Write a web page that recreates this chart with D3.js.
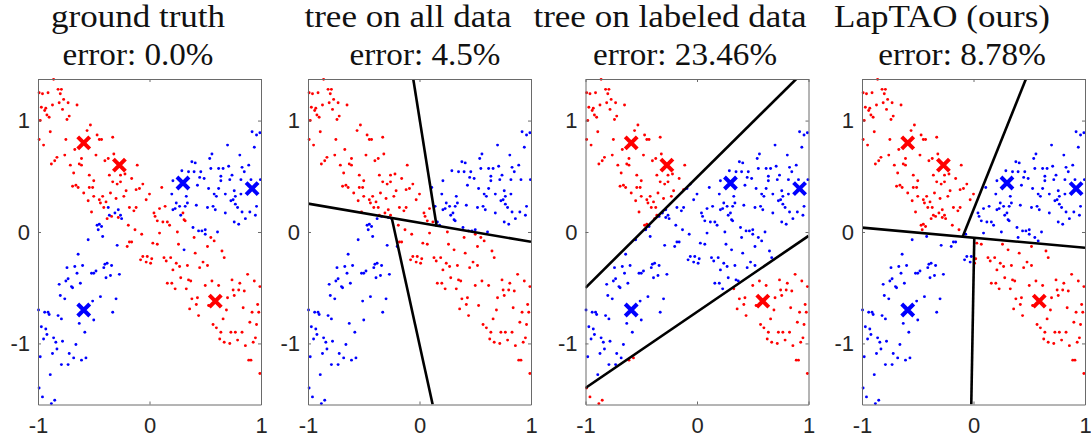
<!DOCTYPE html>
<html>
<head>
<meta charset="utf-8">
<script src="https://cdn.jsdelivr.net/npm/d3@7"></script>
<style>
  body { margin: 0; background: #fff; }
  svg { display: block; }
</style>
</head>
<body>
<svg id="chart"></svg>
<script>
// true class of every point
const redPoints = [
  [-0.86,1.37],[-0.99,1.25],[-0.96,1.24],[-0.91,1.25],[-0.82,1.28],[-0.79,1.28],[-0.80,1.24],[-0.77,1.19],
  [-0.81,1.16],[-0.73,1.16],[-0.65,1.14],[-0.97,1.12],[-0.93,1.11],[-0.94,1.09],[-0.87,1.14],[-0.78,1.10],
  [-0.92,1.05],[-0.90,1.03],[-0.72,1.04],[-0.74,1.01],[-0.98,1.00],[-0.53,0.96],[-0.56,0.91],[-0.89,0.90],
  [-0.99,0.83],[-0.75,0.83],[-0.95,0.78],[-0.47,0.87],[-0.45,0.83],[-0.43,0.83],[-0.33,0.85],[-0.67,0.74],
  [-0.76,0.69],[-0.83,0.67],[-0.85,0.64],[-0.88,0.61],[-0.61,0.66],[-0.48,0.69],[-0.40,0.64],[-0.37,0.66],
  [-0.32,0.70],[-0.71,0.60],[-0.63,0.61],[-0.61,0.60],[-0.68,0.53],[-0.54,0.51],[-0.50,0.46],[-0.54,0.40],
  [-0.36,0.51],[-0.26,0.51],[-0.22,0.52],[-0.16,0.48],[-0.11,0.60],[-0.33,0.45],[-0.29,0.43],[-0.26,0.45],
  [-0.69,0.41],[-0.66,0.42],[-0.64,0.40],[-0.59,0.35],[-0.51,0.40],[-0.35,0.35],[-0.21,0.37],[-0.12,0.38],
  [-0.09,0.39],[-0.06,0.43],[0.00,0.34],[0.11,0.40],
  [-0.50,0.32],[-0.45,0.29],[-0.42,0.32],[-0.30,0.30],[-0.23,0.32],[-0.55,0.28],[-0.44,0.26],[-0.39,0.27],
  [-0.41,0.22],[-0.52,0.18],[-0.34,0.14],[-0.28,0.13],[-0.38,0.12],[-0.18,0.22],[-0.12,0.22],[-0.14,0.19],
  [-0.19,0.06],[-0.13,0.02],[-0.07,-0.02],[-0.18,-0.09],[-0.16,-0.09],[-0.20,-0.13],[-0.06,-0.22],[-0.08,-0.25],
  [-0.03,0.29],[0.09,0.21],[0.14,0.23],[0.04,0.17],[0.05,0.14],[0.07,0.10],[0.12,0.09],[0.16,0.09],
  [0.18,0.06],[0.30,0.17],[0.31,0.11],[0.32,0.10],[0.09,-0.01],[0.25,0.00],[0.03,-0.10],[0.07,-0.11],
  [0.26,-0.11],[0.40,-0.05],[0.55,-0.05],[0.58,-0.08],[0.52,-0.13],[0.41,-0.19],[-0.02,-0.22],[0.02,-0.24],
  [-0.03,-0.27],[0.01,-0.28],[0.13,-0.23],[0.19,-0.23],[0.15,-0.26],[0.24,-0.28],[0.27,-0.31],[0.21,-0.34],
  [0.34,-0.30],[0.48,-0.27],[0.52,-0.30],[0.45,-0.32],[0.65,-0.17],[0.67,-0.23],[0.28,-0.41],[0.35,-0.43],
  [0.37,-0.44],[0.56,-0.44],[0.74,-0.43],[0.88,-0.38],[0.81,-0.46],[0.94,-0.44],[0.99,-0.49],[0.16,-0.46],
  [0.20,-0.46],[0.23,-0.51],[0.33,-0.51],[0.50,-0.48],[0.62,-0.48],[0.75,-0.52],[0.80,-0.52],[0.85,-0.53],
  [0.38,-0.60],[0.43,-0.59],[0.70,-0.59],[0.76,-0.57],
  [0.42,-0.65],[0.36,-0.69],[0.44,-0.75],[0.53,-0.66],[0.69,-0.70],[0.66,-0.78],[0.84,-0.68],[0.92,-0.72],
  [0.97,-0.65],[0.98,-0.72],[0.90,-0.81],[0.96,-0.83],[0.57,-0.83],[0.60,-0.86],[0.64,-0.90],[0.73,-0.90],
  [0.77,-0.90],[0.83,-0.90],[0.63,-0.96],[0.67,-0.99],[0.72,-1.00],[0.79,-0.97],[0.86,-1.02],[0.93,-0.99],
  [0.95,-0.95],[0.89,-1.15],[0.91,-1.15],[0.99,-1.27]
];
const bluePoints = [
  [0.92,0.90],[0.96,0.87],[0.99,0.89],[0.70,0.78],[0.94,0.76],[0.56,0.70],[0.54,0.66],[0.81,0.69],
  [0.38,0.63],[0.41,0.62],[0.29,0.55],[0.35,0.54],[0.40,0.54],[0.46,0.54],[0.55,0.57],[0.62,0.57],
  [0.66,0.57],[0.71,0.59],[0.83,0.58],[0.89,0.60],[0.85,0.54],[0.45,0.49],[0.49,0.48],[0.64,0.50],
  [0.74,0.51],[0.21,0.46],[0.64,0.46],[0.72,0.47],[0.82,0.47],[0.91,0.47],[0.995,0.47],[0.43,0.42],
  [0.53,0.39],[0.62,0.39],[0.76,0.37],[0.82,0.34],[0.58,0.34],[0.68,0.34],[0.20,0.34],
  [0.33,0.32],[0.24,0.26],[0.27,0.23],[0.32,0.23],[0.34,0.26],[0.23,0.21],[0.21,0.20],[0.28,0.15],
  [0.42,0.24],[0.52,0.22],[0.57,0.23],[0.59,0.20],[0.60,0.32],[0.73,0.28],[0.75,0.29],[0.77,0.32],
  [0.77,0.25],[0.79,0.22],[0.68,0.17],[0.83,0.18],[0.90,0.18],[0.95,0.15],[0.86,0.12],[0.76,0.09],
  [0.80,0.07],[0.96,0.23],[0.39,0.04],[0.44,0.01],[0.47,0.01],[0.50,0.02],[0.50,-0.02],[0.61,0.00],
  [0.31,-0.16],
  [-0.37,0.22],[-0.31,0.17],[-0.28,0.20],[-0.36,0.15],[-0.26,0.15],[-0.25,0.12],[-0.47,0.06],[-0.45,0.07],
  [-0.43,0.05],[-0.46,0.02],[-0.42,-0.04],[-0.55,-0.07],[-0.29,-0.12],[-0.64,-0.20],[-0.74,-0.32],[-0.67,-0.31],
  [-0.60,-0.30],[-0.65,-0.37],[-0.41,-0.32],[-0.40,-0.29],[-0.38,-0.28],[-0.34,-0.30],[-0.52,-0.37],[-0.50,-0.37],
  [-0.48,-0.35],[-0.39,-0.41],[-0.35,-0.39],[-0.27,-0.38],[-0.73,-0.42],[-0.75,-0.44],[-0.81,-0.47],[-0.70,-0.49],
  [-0.69,-0.50],[-0.62,-0.46],[-0.80,-0.57],[-0.76,-0.60],[-0.44,-0.58],[-0.30,-0.60],
  [-0.51,-0.62],[-0.995,-0.70],[-0.94,-0.72],[-0.91,-0.72],[-0.90,-0.74],[-0.82,-0.75],[-0.79,-0.78],[-0.50,-0.79],
  [-0.33,-0.72],[-0.63,-0.82],[-0.58,-0.90],[-0.97,-0.85],[-0.93,-0.87],[-0.92,-0.92],[-0.95,-0.96],[-0.86,-0.95],
  [-0.84,-0.99],[-0.78,-0.98],[-0.66,-1.01],[-0.83,-1.05],[-0.87,-1.09],[-0.98,-1.12],[-0.72,-1.09],[-0.68,-1.13],
  [-0.61,-1.15],[-0.57,-1.13],[-0.79,-1.19],[-0.73,-1.19],[-0.89,-1.28],[-0.99,-1.40],[-0.96,-1.48],[-0.85,-1.51],
  [-0.88,-1.54]
];
// the six labeled points, drawn as crosses
const labeledRed = [[-0.59,0.80],[-0.27,0.60],[0.59,-0.62]];
const labeledBlue = [[0.30,0.44],[0.92,0.39],[-0.59,-0.70]];

const xTicks = [-1, 0, 1];
const yTicks = [-1, 0, 1];
const xDomain = [-1, 1];
const yDomain = [-1.548, 1.373];

// oblique trees: split = segment [x1,y1,x2,y2], pos = left of its direction, neg = right
const treeAll = {
  split: [-1, 0.255, 1, -0.088],
  pos: { split: [0.154, 0.05, -0.056, 1.373], pos: "red", neg: "blue" },
  neg: { split: [0.118, -1.548, -0.249, 0.125], pos: "blue", neg: "red" }
};
const treeLabeled = {
  split: [-1, -0.50, 0.89, 1.373],
  pos: "red",
  neg: { split: [-1, -1.40, 1, -0.035], pos: "blue", neg: "red" }
};
const treeLapTAO = {
  split: [-1, 0.039, 1, -0.141],
  pos: { split: [-0.10, -0.05, 0.47, 1.373], pos: "red", neg: "blue" },
  neg: { split: [-0.02, -1.548, 0.007, -0.052], pos: "blue", neg: "red" }
};

const titles = ["ground truth", "tree on all data", "tree on labeled data", "LapTAO (ours)"];
const errors = ["error: 0.0%", "error: 4.5%", "error: 23.46%", "error: 8.78%"];
const trees = [null, treeAll, treeLabeled, treeLapTAO];
const showLabeled = [true, false, true, true];

const colors = { red: "#ff0000", blue: "#0000ff" };

const width = 1091, height = 437;
const panelLeft = [38, 308, 585.5, 862];
const plotW = 223, plotTop = 79, plotBottom = 404.5;
const titleX = [[138, 138], [408, 425], [670, 685], [942, 962]];

const svg = d3.select("#chart").attr("width", width).attr("height", height);

const points = redPoints.map(p => ({ p, truth: "red" }))
  .concat(bluePoints.map(p => ({ p, truth: "blue" })));

function classify(node, p) {
  if (typeof node === "string") return node;
  const [x1, y1, x2, y2] = node.split;
  const c = (x2 - x1) * (p[1] - y1) - (y2 - y1) * (p[0] - x1);
  return classify(c > 0 ? node.pos : node.neg, p);
}

function splits(node, out = []) {
  if (!node || typeof node === "string") return out;
  out.push(node.split);
  splits(node.pos, out);
  splits(node.neg, out);
  return out;
}

function drawPanel(i) {
  const left = panelLeft[i];
  const x = d3.scaleLinear().domain(xDomain).range([left, left + plotW]);
  const y = d3.scaleLinear().domain(yDomain).range([plotBottom, plotTop]);
  const tree = trees[i];
  const g = svg.append("g");

  // title, two lines (stretched a little to get the Computer Modern width)
  const t = g.append("g")
    .attr("font-family", "'Liberation Serif', 'Times New Roman', serif")
    .attr("font-size", 31)
    .attr("fill", "#111")
    .attr("text-anchor", "middle");
  t.append("text").attr("transform", `translate(${titleX[i][0]},27) scale(1.13,1)`).text(titles[i]);
  t.append("text").attr("transform", `translate(${titleX[i][1]},65) scale(1.07,1)`).text(errors[i]);

  g.append("clipPath").attr("id", "clip" + i)
    .append("rect")
    .attr("x", left).attr("y", plotTop)
    .attr("width", plotW).attr("height", plotBottom - plotTop);

  // points, coloured by true class or by the tree's prediction
  g.append("g")
    .selectAll("circle")
    .data(points)
    .join("circle")
    .attr("cx", d => x(d.p[0]))
    .attr("cy", d => y(d.p[1]))
    .attr("r", 1.45)
    .attr("fill", d => colors[tree ? classify(tree, d.p) : d.truth]);

  // decision boundaries
  g.append("g")
    .attr("clip-path", `url(#clip${i})`)
    .selectAll("line")
    .data(splits(tree))
    .join("line")
    .attr("x1", d => x(d[0])).attr("y1", d => y(d[1]))
    .attr("x2", d => x(d[2])).attr("y2", d => y(d[3]))
    .attr("stroke", "#000")
    .attr("stroke-width", 2.6);

  // labeled points
  if (showLabeled[i]) {
    const crosses = labeledRed.map(p => ({ p, c: "red" }))
      .concat(labeledBlue.map(p => ({ p, c: "blue" })));
    const s = 6;
    g.append("g")
      .selectAll("path")
      .data(crosses)
      .join("path")
      .attr("d", d => {
        const cx = x(d.p[0]), cy = y(d.p[1]);
        return `M${cx - s},${cy - s}L${cx + s},${cy + s}M${cx - s},${cy + s}L${cx + s},${cy - s}`;
      })
      .attr("stroke", d => colors[d.c])
      .attr("stroke-width", 4)
      .attr("fill", "none");
  }

  // box + ticks on all four sides (inward)
  const fmt = d => String(d);
  const axes = [
    g.append("g").attr("transform", `translate(0,${plotBottom})`)
      .call(d3.axisBottom(x).tickValues(xTicks).tickSize(-3).tickSizeOuter(0).tickPadding(13).tickFormat(fmt)),
    g.append("g").attr("transform", `translate(${left},0)`)
      .call(d3.axisLeft(y).tickValues(yTicks).tickSize(-3).tickSizeOuter(0).tickPadding(8).tickFormat(fmt)),
    g.append("g").attr("transform", `translate(0,${plotTop})`)
      .call(d3.axisTop(x).tickValues(xTicks).tickSize(-3).tickSizeOuter(0).tickFormat("")),
    g.append("g").attr("transform", `translate(${left + plotW},0)`)
      .call(d3.axisRight(y).tickValues(yTicks).tickSize(-3).tickSizeOuter(0).tickFormat(""))
  ];
  axes.forEach(a => {
    a.attr("font-size", 22)
      .attr("font-family", "'Liberation Sans', Arial, sans-serif")
      .attr("color", "#262626");
    a.select(".domain").attr("stroke", "#6a6a6a");
    a.selectAll(".tick line").attr("stroke", "#6a6a6a");
  });
}

titles.forEach((_, i) => drawPanel(i));
</script>
</body>
</html>
